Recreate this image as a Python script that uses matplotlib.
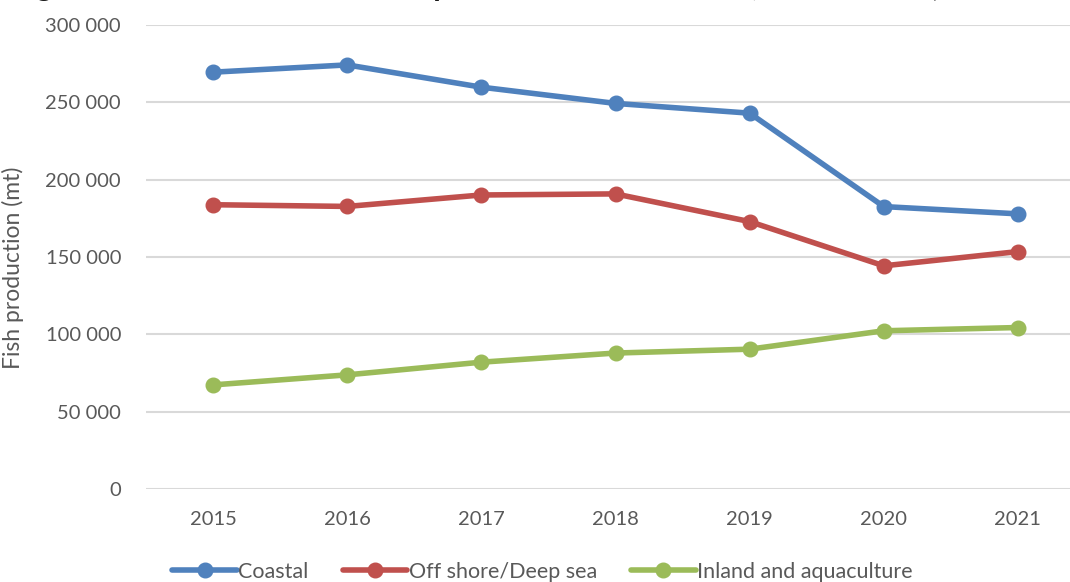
import matplotlib
matplotlib.use("Agg")
import matplotlib.pyplot as plt
from matplotlib.ticker import FuncFormatter

years = ["2015", "2016", "2017", "2018", "2019", "2020", "2021"]
coastal = [269500, 274200, 259800, 249300, 243000, 182600, 177900]
offshore = [183800, 182700, 190100, 190800, 172900, 144300, 153500]
inland = [67300, 73800, 82000, 87900, 90400, 102300, 104400]
series_names = ["Coastal", "Off shore/Deep sea", "Inland and aquaculture"]
colors = ["#4F81BD", "#C0504D", "#9BBB59"]
yticks = [0, 50000, 100000, 150000, 200000, 250000, 300000]
title = "Figure 3: Trend of the total fish production in all sectors, 2015\u20132021 (metric tonnes)"
ylabel = "Fish production (mt)"

plt.rcParams['font.family'] = ['Lato', 'DejaVu Sans']
fig = plt.figure(figsize=(10.7, 5.82), dpi=100)
ax = fig.add_axes([146/1070, 1-489/582, (1085-146)/1070, (489-25)/582])

x = list(range(len(years)))
for vals, name, c in zip([coastal, offshore, inland], series_names, colors):
    ax.plot(x, vals, color=c, lw=4, marker='o', ms=10.5, label=name,
            solid_capstyle='round', zorder=3)

ax.set_xlim(-0.5, len(years)-0.5)
ax.set_ylim(0, 300000)
ax.set_yticks(yticks)
ax.yaxis.set_major_formatter(FuncFormatter(lambda v, p: f"{int(v):,}".replace(",", " ")))
ax.set_xticks(x)
ax.set_xticklabels(years)
ax.grid(axis='y', color='#D9D9D9', lw=1.5, zorder=0)
for s in ax.spines.values():
    s.set_visible(False)
ax.tick_params(axis='both', length=0, labelsize=14.5, labelcolor='#595959')
ax.tick_params(axis='y', pad=18)
ax.tick_params(axis='x', pad=16)
ax.set_ylabel(ylabel, fontsize=16.5, color='#595959')
ax.yaxis.set_label_coords(-(146-24)/939, (489-268)/464)

leg = fig.legend(loc='center', bbox_to_anchor=(0.507, 1-572/582), ncol=3, frameon=False,
                 fontsize=15.5, handlelength=3.0, columnspacing=1.6, handletextpad=0.05,
                 labelcolor='#595959')

fig.text(12/1070, 1+4/582, title, fontsize=21.5, fontweight='bold', color='#1a1a1a',
         va='baseline', ha='left')

fig.savefig("out.png", dpi=100)
